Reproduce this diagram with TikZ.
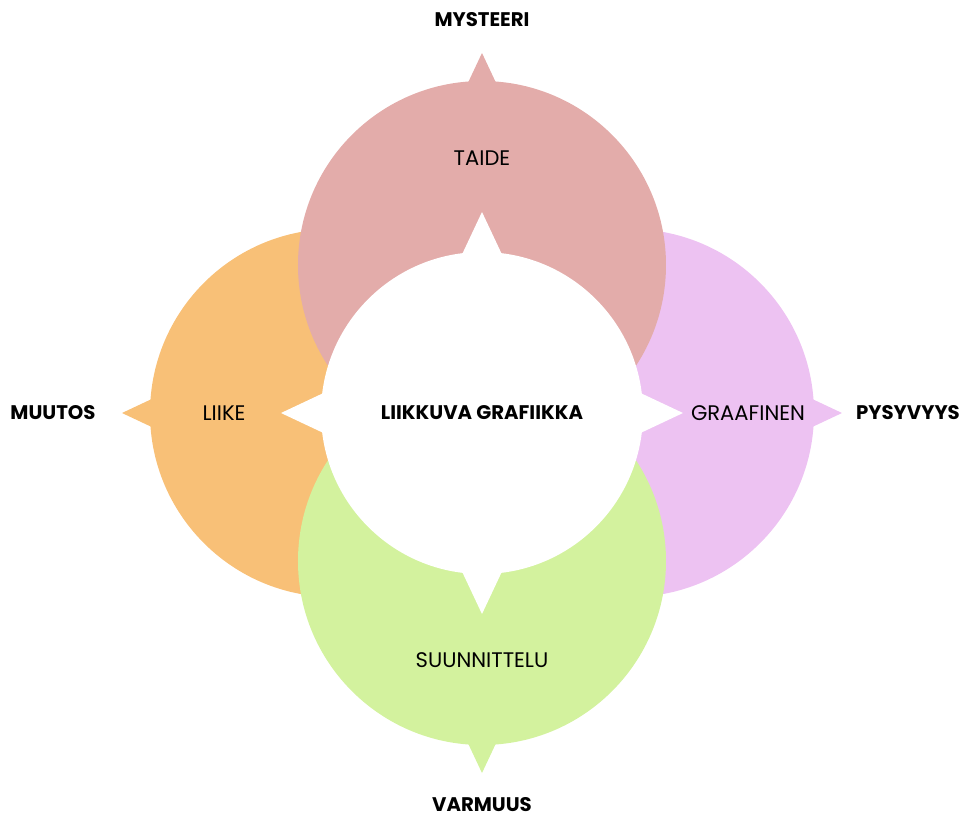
\documentclass[tikz,border=0pt]{standalone}
\usepackage{fontspec}
\setmainfont{Poppins}
\usepackage{tikz}
\definecolor{taidecol}{HTML}{E3ACAA}
\definecolor{graafcol}{HTML}{EDC2F2}
\definecolor{suunncol}{HTML}{D3F29E}
\definecolor{liikecol}{HTML}{F8C077}
\begin{document}
\begin{tikzpicture}[x=0.025cm, y=0.025cm, inner/.style = {font=\fontsize{15}{17}\selectfont}, outer/.style = {font=\fontsize{14}{16}\selectfont\bfseries}]
\useasboundingbox (-482,-405) rectangle (481,413);
% petals, back to front
\foreach \ang/\col in {180/liikecol, 0/graafcol, 90/taidecol, 270/suunncol} {
  \fill[\col, rotate=\ang] (148,0) circle (184);
  \fill[\col, rotate=\ang] (326,-16) -- (360,0) -- (326,16) -- cycle;
}
% white middle with inward points
\fill[white] (0,0) circle (161);
\foreach \ang in {0,90,180,270}
  \fill[white, rotate=\ang] (150,-24) -- (201,0) -- (150,24) -- cycle;
\node[outer] (center) at (0,0) {LIIKKUVA GRAFIIKKA};
\node[inner] (taide) at (0,255) {TAIDE};
\node[inner] (liike) at (-258,0) {LIIKE};
\node[inner] (graafinen) at (266,0) {GRAAFINEN};
\node[inner] (suunnittelu) at (0,-247) {SUUNNITTELU};
\node[outer] (mysteeri) at (0,393) {MYSTEERI};
\node[outer] (muutos) at (-429,0) {MUUTOS};
\node[outer] (pysyvyys) at (426,0) {PYSYVYYS};
\node[outer] (varmuus) at (0,-392) {VARMUUS};
\end{tikzpicture}
\end{document}
